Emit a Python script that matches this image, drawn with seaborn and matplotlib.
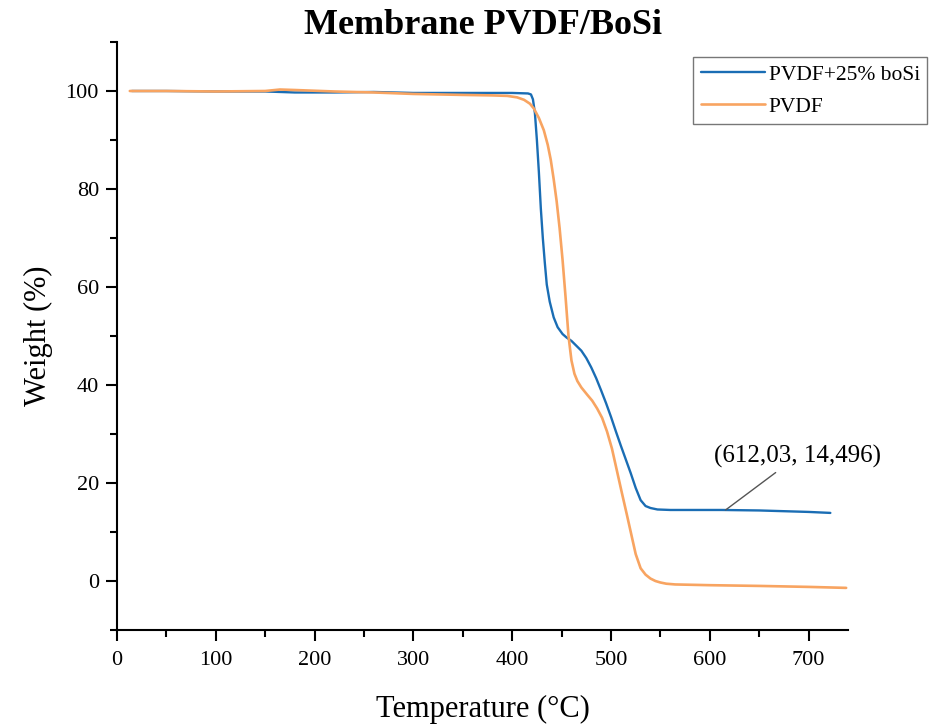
import matplotlib
matplotlib.use("Agg")
import matplotlib.pyplot as plt
import seaborn as sns
import pandas as pd
from matplotlib.ticker import MultipleLocator

# ---- data ----
labels = ["PVDF+25% boSi", "PVDF"]
colors = ["#1a6db4", "#f8a461"]

temp_bosi = [15, 50, 100, 150, 180, 220, 260, 300, 350, 400, 416, 419, 421, 423, 425,
             427, 429, 431, 433, 435, 438, 442, 446, 451, 455, 460, 465, 470, 475, 480,
             485, 490, 495, 500, 505, 510, 515, 520, 525, 530, 535, 540, 547, 560, 580,
             612, 650, 700, 722]
weight_bosi = [100.0, 100.0, 99.9, 99.9, 99.7, 99.7, 99.8, 99.6, 99.6, 99.6, 99.5, 99.3,
               98.3, 95.5, 90.0, 83.5, 76.0, 70.0, 65.0, 60.5, 57.0, 53.8, 51.8, 50.4,
               49.7, 49.0, 48.0, 47.0, 45.5, 43.6, 41.4, 38.9, 36.3, 33.5, 30.5, 27.6,
               24.8, 22.0, 19.0, 16.5, 15.3, 14.9, 14.6, 14.5, 14.5, 14.5, 14.4, 14.1, 13.9]

temp_pvdf = [13, 50, 100, 150, 165, 180, 220, 260, 300, 350, 380, 395, 405, 412, 418,
             422, 427, 432, 436, 439, 442, 445, 448, 451, 454, 457, 460, 463, 466, 470,
             476, 481, 486, 491, 496, 501, 506, 511, 516, 520, 525, 530, 535, 540, 545,
             550, 556, 565, 600, 650, 700, 738]
weight_pvdf = [100.0, 100.0, 99.9, 100.0, 100.3, 100.2, 99.9, 99.7, 99.4, 99.2, 99.1,
               99.0, 98.7, 98.2, 97.4, 96.4, 94.5, 92.0, 89.0, 86.0, 82.0, 77.5, 72.0,
               65.5, 58.0, 50.0, 45.0, 42.3, 40.8, 39.5, 38.0, 36.8, 35.2, 33.3, 30.5,
               27.0, 22.5, 18.0, 13.6, 10.0, 5.5, 2.6, 1.3, 0.5, 0.0, -0.3, -0.55, -0.7,
               -0.85, -1.0, -1.2, -1.4]

annot_text = "(612,03, 14,496)"
annot_point = (616, 14.5)

title = "Membrane PVDF/BoSi"
xlabel = "Temperature (°C)"
ylabel = "Weight (%)"

df = pd.concat([
    pd.DataFrame({"T": temp_bosi, "W": weight_bosi, "S": labels[0]}),
    pd.DataFrame({"T": temp_pvdf, "W": weight_pvdf, "S": labels[1]}),
])

# ---- style ----
sns.set_theme(style="ticks")
plt.rcParams["font.family"] = ["Liberation Serif", "DejaVu Serif"]
plt.rcParams["text.color"] = "black"
plt.rcParams["axes.labelcolor"] = "black"
plt.rcParams["xtick.color"] = "black"
plt.rcParams["ytick.color"] = "black"

fig = plt.figure(figsize=(9.32, 7.24), dpi=100)
ax = fig.add_axes([0.1255, 0.1298, 0.7845, 0.8122])

for lab, col, lw in zip(labels, colors, [1.7, 1.9]):
    sub = df[df["S"] == lab]
    sns.lineplot(data=sub, x="T", y="W", ax=ax, color=col, linewidth=lw,
                 label=lab, sort=False, estimator=None)

ax.set_xlim(0, 740)
ax.set_ylim(-10, 110)
ax.xaxis.set_major_locator(MultipleLocator(100))
ax.xaxis.set_minor_locator(MultipleLocator(50))
ax.yaxis.set_major_locator(MultipleLocator(20))
ax.yaxis.set_minor_locator(MultipleLocator(10))

for s in ["top", "right"]:
    ax.spines[s].set_visible(False)
for s in ["left", "bottom"]:
    ax.spines[s].set_linewidth(1.5)
    ax.spines[s].set_color("black")

ax.tick_params(axis="both", which="major", direction="out", length=8, width=1.5,
               labelsize=16, colors="black", labelcolor="black", pad=5)
ax.tick_params(axis="both", which="minor", direction="out", length=5, width=1.5,
               colors="black")
ax.tick_params(axis="x", which="major", pad=7)

ax.set_xlabel(xlabel, fontsize=22, labelpad=18, color="black")
ax.set_ylabel(ylabel, fontsize=22, labelpad=9, color="black")
ax.set_title(title, fontsize=26, fontweight="bold", pad=4, color="black")

ax.annotate(annot_text, xy=annot_point, xytext=(689, 25.5), ha="center", va="center",
            fontsize=18, color="black",
            arrowprops=dict(arrowstyle="-", color="#555555", lw=1.0, shrinkA=2, shrinkB=0))

ax.get_legend().remove()
handles, labs = ax.get_legend_handles_labels()
leg = fig.legend(handles, labs, loc="upper right", bbox_to_anchor=(0.995, 0.921),
                 bbox_transform=fig.transFigure, fontsize=15.5, frameon=True,
                 fancybox=False, edgecolor="#777777", framealpha=1, borderpad=0.35,
                 handlelength=3.0, handletextpad=0.15, labelspacing=0.55,
                 borderaxespad=0, labelcolor="black")
leg.get_frame().set_linewidth(1.0)

fig.savefig("out.png", dpi=100)
